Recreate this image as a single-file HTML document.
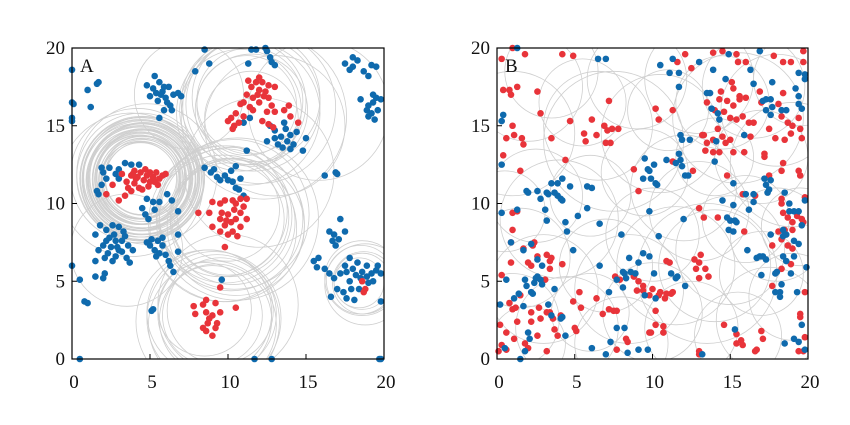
<!DOCTYPE html>
<html><head><meta charset="utf-8"><style>
html,body{margin:0;padding:0;background:#fff;width:850px;height:425px;overflow:hidden}
svg{display:block}
text{font-family:"Liberation Serif",serif;font-size:19px;fill:#111}
</style></head><body>
<svg id="chart" width="850" height="425" viewBox="0 0 850 425" xmlns="http://www.w3.org/2000/svg">
<defs>
<clipPath id="clipA"><rect x="72" y="48" width="312" height="311"/></clipPath>
<clipPath id="clipB"><rect x="497" y="48" width="311" height="311"/></clipPath>
</defs>
<g id="panelA"></g>
<g id="panelB"></g>
</svg>
<script>
// ---- Data (data units, 0..20) ----
const ticks = [0,5,10,15,20];
const tickLabels = ["0","5","10","15","20"];
const panelLabels = ["A","B"];

const circlesA = [
[4.4,11.6,2.3],[4.5,11.7,2.4],[4.4,11.5,2.5],[4.5,11.6,2.6],[4.3,11.7,2.7],[4.5,11.5,2.8],[4.4,11.6,2.9],[4.6,11.7,3.0],[4.4,11.5,3.1],[4.5,11.6,3.2],[4.3,11.6,3.3],[4.5,11.7,3.4],[4.4,11.5,3.5],[4.6,11.6,3.6],[4.4,11.7,3.7],[4.5,11.5,3.8],[4.4,11.6,3.9],[4.5,11.6,4.0],[4.4,11.7,4.1],[4.5,11.6,2.35],[4.4,11.6,2.55],[4.5,11.6,2.75],[4.4,11.6,2.95],[4.5,11.6,3.15],[4.4,11.6,3.35],[4.5,11.6,3.55],[4.4,11.6,3.75],[4.5,11.6,3.95],[4.3,11.5,2.45],[4.6,11.7,2.65],[4.3,11.5,2.85],[4.6,11.7,3.05],[4.3,11.5,3.25],[4.6,11.7,3.45],[4.3,11.5,3.65],[4.6,11.7,3.85],[4.2,11.8,4.3],[3.8,11.2,4.6],[4.8,11.9,4.5],
[11.2,16.3,3.2],[11.5,16.0,3.6],[11.0,16.5,4.0],[11.6,16.4,4.3],[11.3,15.8,4.6],[12.0,16.2,4.9],[11.4,16.6,3.4],[10.8,16.0,3.9],[12.3,15.6,5.3],[11.8,16.8,4.1],[13.0,15.0,4.5],[11.5,15.5,3.0],
[10.0,9.0,3.6],[10.3,8.8,4.0],[9.8,9.2,4.3],[10.2,9.0,4.6],[10.4,9.3,4.8],[9.9,8.7,5.0],[10.1,9.1,3.8],[10.5,8.5,4.4],[9.6,9.5,4.2],[10.0,9.6,3.3],[10.6,9.0,5.2],[9.7,8.4,4.7],
[9.0,2.8,3.2],[9.2,2.5,3.6],[8.8,3.0,4.0],[9.1,2.6,4.3],[9.3,2.9,3.8],[8.7,2.4,4.6],[9.5,3.1,3.4],[9.0,2.2,4.1],[10.0,3.5,4.5],[8.5,3.2,3.0],
[18.6,5.0,1.8],[18.7,4.9,2.0],[18.5,5.1,2.2],[18.6,5.2,2.4],[18.8,4.8,2.6],[18.4,4.9,1.6],
[15.8,16.0,4.5],[7.5,17.0,3.5],[3.5,7.0,3.6],[12.0,12.0,4.8]
];
const redA = [
[11.5,17.5],[11.8,17.8],[12.0,17.3],[12.2,17.8],[11.2,17.0],[11.6,16.8],[12.0,16.5],[12.3,16.9],[12.6,16.8],[12.8,16.3],[11.0,16.5],[11.4,16.2],[12.6,17.6],[11.6,16.0],[10.8,16.4],[12.0,18.1],[13.0,17.5],[12.5,15.9],[13.6,16.0],[13.9,16.3],[14.0,15.6],[14.5,15.2],[13.0,15.9],[12.9,14.9],[12.6,15.1],[10.5,15.8],[10.2,15.5],[10.0,15.3],[10.4,15.0],[10.7,15.2],[11.0,15.6],[10.3,14.8],[12.2,15.3],[11.9,17.0],[12.4,17.2],[11.3,17.9],
[3.5,11.4],[3.8,11.8],[4.0,11.3],[4.2,11.7],[4.4,12.0],[4.6,11.5],[4.8,11.8],[5.0,11.4],[5.2,11.7],[5.4,12.0],[5.6,11.6],[5.8,11.8],[6.0,11.9],[4.3,11.0],[3.8,10.8],[3.4,10.5],[3.0,10.2],[4.7,12.2],[5.0,12.0],[3.2,11.9],[2.2,10.6],[2.6,11.2],[3.6,11.0],[4.0,12.1],[4.5,10.9],[5.5,11.2],[4.1,11.6],[4.9,11.1],[5.3,11.4],[3.9,11.9],
[9.5,10.0],[9.8,10.2],[10.3,10.2],[10.5,10.0],[10.8,10.3],[11.2,10.3],[11.0,9.8],[10.8,9.4],[10.5,9.0],[10.2,8.8],[10.0,9.3],[9.6,9.4],[9.5,9.0],[9.8,8.6],[10.3,8.2],[9.5,8.2],[10.0,8.0],[10.8,8.5],[11.2,9.0],[8.1,9.4],[8.8,9.4],[9.0,10.1],[9.0,8.5],[9.8,7.2],[10.6,7.9],[10.4,9.6],[9.9,8.9],
[9.5,4.6],[7.8,3.4],[8.4,3.5],[8.6,3.8],[9.2,3.6],[10.5,3.3],[8.6,3.0],[7.9,2.9],[8.8,2.6],[9.0,2.8],[9.3,2.3],[9.5,3.0],[8.4,2.0],[8.7,2.3],[9.0,1.5],[9.2,2.0],[8.6,1.8],
[18.6,5.0],[18.8,4.5],[18.7,4.3]
];
const blueA = [
[5.3,18.2],[5.6,17.8],[5.2,17.4],[5.8,17.2],[6.0,16.8],[5.5,16.6],[6.3,16.3],[5.9,16.0],[4.8,17.6],[6.2,17.5],[6.5,17.0],[5.0,16.9],[5.7,17.0],[6.1,16.5],[5.6,15.5],[7.0,16.9],[6.8,17.1],[5.4,17.1],[5.9,17.5],[6.4,16.0],
[0,18.6],[0,16.5],[0.1,16.4],[0,15.5],[0,15.3],[1.0,17.3],[1.6,17.7],[1.7,17.8],[1.2,16.2],
[8.5,19.9],[8.8,19.0],[7.9,18.5],[11.5,19.9],[11.8,19.9],[12.5,19.8],[12.7,19.4],[12.8,19.1],[13.0,18.9],[11.3,19.0],[12.4,20],
[12.7,15.0],[13.0,14.7],[13.4,14.3],[13.8,14.0],[13.2,13.8],[14.0,14.4],[13.6,15.2],[14.2,13.8],[14.0,13.5],[14.8,13.4],[15.0,14.2],[13.7,14.8],[13.0,14.2],[13.5,13.6],[14.4,14.6],[12.5,14.0],
[11.0,15.2],[11.4,15.5],[11.2,13.4],
[17.5,19.0],[18.0,19.4],[18.3,19.2],[18.0,18.8],[17.8,18.6],[18.7,18.5],[19.2,18.9],[19.5,18.8],[19.0,18.2],[18.5,16.7],[19.0,16.3],[19.3,16.5],[19.5,16.8],[19.8,16.7],[19.3,17.0],[18.9,16.0],[19.2,15.8],[19.6,16.0],[19.0,15.6],[19.4,15.4],
[2.0,12.0],[1.9,12.3],[2.4,12.3],[2.2,11.6],[1.9,11.2],[1.6,10.8],[1.7,10.6],[3.0,12.2],[3.4,12.6],[3.8,12.5],[4.3,12.5],[2.8,11.9],[4.8,10.3],[5.2,10.1],[5.6,10.1],[6.1,10.6],[6.4,10.2],[4.5,9.7],[4.7,9.3],[4.9,9.0],[5.3,9.6],[6.8,9.5],[3.0,11.6],
[1.8,8.6],[2.2,8.3],[2.6,8.6],[3.0,8.5],[3.3,8.2],[2.4,7.8],[2.8,7.6],[3.2,7.6],[3.6,7.3],[2.0,7.3],[1.7,7.0],[2.3,6.8],[2.8,6.6],[3.2,6.9],[2.5,7.2],[3.9,7.0],[3.5,6.5],[2.1,6.5],[1.5,6.3],[3.7,6.2],[1.5,8.0],[2.9,7.2],[3.4,7.9],[2.6,6.3],[2.7,8.0],[3.0,7.0],[2.2,7.6],
[4.8,7.5],[5.1,7.7],[5.5,7.6],[5.8,7.8],[5.0,7.3],[5.3,7.0],[5.6,6.8],[5.4,6.6],[6.0,6.7],[6.3,6.0],[6.5,5.6],[6.2,6.3],[6.8,8.0],[6.8,6.9],[5.8,7.3],
[0,6.0],[0.5,5.1],[1.5,5.3],[2.0,5.2],[2.1,5.5],[0.8,3.7],[1.0,3.6],[5.1,3.1],[5.2,3.2],[0.5,0],[11.7,0],[12.8,0],[19.8,0],[19.7,0],
[8.5,12.3],[8.9,12.0],[9.3,11.7],[9.5,11.5],[10.0,11.5],[10.3,11.4],[10.5,11.0],[10.2,12.1],[10.5,12.4],[10.8,11.6],[11.0,10.5],[10.7,10.9],[9.8,11.8],[9.1,12.2],
[9.6,5.1],
[16.5,8.2],[16.8,8.0],[17.1,7.7],[16.9,7.3],[17.2,9.0],[17.5,8.2],[16.7,7.6],[15.5,6.3],[15.8,6.5],[15.7,5.9],[16.2,5.8],[16.5,5.5],[16.8,5.2],[17.2,5.5],[17.5,6.0],[17.8,6.5],[18.0,5.8],[18.3,6.2],[18.6,5.6],[18.9,6.0],[19.2,5.5],[19.5,5.7],[19.3,5.0],[19.0,4.9],[18.4,4.5],[17.9,4.5],[17.4,4.3],[17.0,4.5],[16.6,4.0],[17.6,3.9],[18.1,3.8],[17.8,5.0],[18.5,5.2],[19.6,6.0],[19.8,5.5],[19.8,3.7],[16.2,11.8],[16.9,12.0],[17.0,11.9],[18.2,5.4],[17.6,5.6],[18.9,5.3]
];

const circlesB = [
[2.0,17.5,3.5],[1.0,14.5,4.0],[3.5,18.5,3.0],[6.5,15.0,3.5],[7.5,14.0,4.5],[5.5,16.5,2.8],[9.0,18.0,3.2],[10.5,14.5,3.8],[9.5,12.0,2.8],[13.0,18.0,3.5],[14.5,16.5,3.0],[15.5,15.5,4.2],[16.5,17.5,3.3],[18.0,16.0,3.6],[17.0,13.0,3.0],[14.0,13.0,2.5],[19.0,12.5,4.0],[19.5,18.0,3.0],[12.0,11.0,3.4],
[2.5,10.5,3.0],[4.0,9.0,3.8],[6.0,10.5,2.6],[1.5,6.5,3.2],[3.0,4.5,3.5],[1.0,2.5,3.0],[4.5,2.0,3.3],[7.0,6.0,3.0],[8.5,4.5,3.5],[10.0,3.0,3.2],[11.5,6.0,3.8],[13.5,5.5,4.5],[14.0,6.0,3.6],[12.5,2.0,3.0],[15.5,1.5,2.8],[17.5,2.5,3.4],[19.0,4.0,2.8],[18.0,8.0,3.0],[16.0,9.0,2.8],[15.0,7.0,3.5],[8.0,1.0,3.0],[6.0,3.0,2.5],[2.0,1.0,2.4],[13.0,9.5,3.2],[11.0,16.0,2.6],[0.5,9.5,2.6],[19.5,8.5,2.5],[17.0,5.5,2.7],[10.0,8.0,3.0]
];
const redB = [
[0.3,19.3],[1.0,20],[1.8,19.6],[0.4,17.3],[0.8,17.3],[0.9,17.0],[1.3,17.5],[2.6,17.2],[2.8,15.8],[1.0,15.0],[0.6,14.2],[1.1,14.4],[1.6,14.2],[1.7,13.8],[3.5,14.2],[0.4,13.1],[1.5,12.1],[4.4,12.8],[4.2,19.6],[4.9,19.5],
[4.7,15.3],[6.1,15.4],[5.6,14.5],[5.7,14.0],[6.4,14.4],[6.9,15.0],[7.1,14.7],[7.4,14.8],[7.0,13.9],[7.3,13.9],[7.8,14.8],[7.2,16.6],[10.2,16.1],[10.4,15.4],[11.3,16.0],[8.8,12.2],[9.1,10.8],
[11.6,19.1],[12.1,19.6],[12.5,18.7],[13.9,19.7],[14.5,19.8],[15.4,19.6],[16.0,19.1],[15.5,19.1],[15.1,17.8],[15.2,17.4],[13.5,16.5],[14.4,17.2],[14.3,16.7],[14.8,16.6],[15.2,16.3],[15.6,16.9],[15.6,16.7],[16.0,16.8],[14.0,16.0],[14.6,15.9],[15.0,15.5],[15.4,15.4],[15.8,15.6],[16.2,15.2],[16.5,15.2],[13.2,14.4],[13.3,14.4],[13.5,13.9],[13.9,14.1],[14.2,14.8],[14.5,14.3],[14.7,13.9],[15.0,14.1],[13.9,13.3],[14.3,13.3],[13.4,13.4],[15.2,13.3],[15.9,13.3],[16.3,14.3],[16.9,17.2],[17.0,16.5],[17.8,19.5],[18.4,19.1],[18.9,19.1],[19.7,19.8],[19.7,19.1],[18.4,17.1],[18.1,16.4],[18.3,15.6],[18.7,15.2],[19.0,15.0],[19.4,15.5],[19.5,14.8],[17.5,14.8],[17.9,14.2],[18.5,14.1],[18.9,14.5],[19.6,14.2],[17.2,13.0],[17.2,13.2],[18.4,12.6],[18.3,12.1],[19.4,12.1],[19.5,11.8],[17.5,11.8],[16.6,10.5],[14.8,11.8],[12.6,12.1],[11.3,12.7],[13.3,9.1],[14.2,9.1],[13.0,9.7],[15.8,10.6],[15.9,8.2],[18.3,10.3],[18.3,10.0],[18.4,9.4],[18.7,9.1],[19.0,8.8],[19.3,9.2],[19.6,9.0],[19.8,10.4],[19.7,8.8],[18.1,8.2],[18.5,8.3],[19.0,8.3],[17.7,7.3],[18.3,7.7],[18.7,7.3],[19.0,7.1],[18.3,5.8],[18.9,6.1],[17.7,4.7],[19.8,4.3],[19.5,2.9],[19.5,2.7],[19.8,1.4],[19.4,0.5],[19.7,0.5],
[12.7,6.4],[13.0,6.2],[13.1,6.7],[12.8,5.8],[13.0,5.2],[13.4,5.8],[13.6,5.3],[10.9,6.3],[11.1,6.2],[10.5,4.3],[10.9,4.2],[11.2,4.2],[11.3,4.3],[10.8,3.9],[10.4,4.1],[9.8,4.1],[10.0,4.5],[9.4,4.7],[9.1,5.0],[8.8,5.3],[9.0,4.4],[9.4,4.4],[7.6,5.3],[7.9,5.1],[7.2,3.2],[7.5,3.1],[7.7,3.1],[6.4,3.9],[6.8,2.9],[5.3,4.3],[5.4,3.3],[4.9,3.7],[5.0,2.0],[5.1,1.8],[10.2,3.1],[10.2,2.2],[10.7,2.1],[10.7,1.7],[9.8,1.7],[9.9,1.7],[8.3,1.3],[8.4,1.1],[7.7,0.6],[13.0,0.5],[13.0,0.3],[14.6,2.2],[15.4,1.6],[15.7,1.2],[15.4,1.0],[15.8,0.9],[16.6,0.5],[17.0,1.8],[17.1,1.3],[16.7,0.6],
[0.3,5.4],[0.9,7.5],[1.0,8.3],[1.0,9.4],[1.3,9.5],[1.7,7.1],[2.0,6.2],[2.2,6.0],[2.4,7.5],[2.3,7.3],[2.6,6.6],[3.2,6.7],[3.4,6.3],[3.4,5.8],[3.5,6.5],[4.2,6.1],[3.1,5.1],[0.9,6.2],[0.8,3.6],[1.0,3.2],[1.2,3.3],[1.5,4.1],[1.1,1.3],[1.3,2.4],[0.6,1.7],[0.2,2.2],[0.1,0.5],[0.3,0.9],[0.6,0.6],[1.8,1.0],[2.2,2.4],[2.2,3.0],[2.7,3.3],[2.8,2.6],[3.2,3.0],[3.4,3.0],[3.6,2.6],[3.7,1.9],[4.1,2.8],[3.2,0.5],[2.6,1.5],[3.9,1.5],[2.0,0.7]
];
const blueB = [
[0.3,12.5],[0.4,15.7],[0.3,15.3],[0.3,9.4],[1.3,20],[6.5,19.3],[7.0,19.3],[10.5,18.9],[11.1,18.4],[11.3,19.3],[11.7,18.4],[11.7,17.5],[13.0,19.1],[13.9,18.6],[14.9,19.6],[14.7,18.0],[13.5,17.1],[13.7,17.1],[13.8,16.1],[14.2,15.8],[14.3,15.4],[16.5,17.7],[16.3,18.6],[16.9,19.8],[17.1,16.6],[17.3,16.7],[17.6,16.7],[17.7,17.8],[17.3,16.0],[17.6,15.7],[17.7,16.2],[18.3,16.0],[18.6,16.0],[19.2,17.4],[19.4,16.9],[19.6,16.1],[19.4,16.4],[19.4,18.4],[19.8,18.3],[19.8,18.0],[15.9,14.4],[14.1,14.0],[14.0,12.7],[11.8,14.4],[11.9,14.1],[11.7,13.2],[11.8,12.8],[11.5,12.6],[11.9,12.4],[12.1,11.8],[12.3,11.8],[12.4,14.1],[10.9,12.8],[9.5,12.9],[9.7,12.2],[10.1,12.5],[9.8,12.1],[9.4,11.6],[9.9,11.6],[10.2,11.3],[10.3,11.2],[9.8,9.5],[10.4,7.9],[12.0,9.0],[14.5,10.2],[14.8,9.1],[15.0,8.9],[15.3,8.9],[15.4,8.8],[14.9,8.3],[15.2,8.2],[15.2,9.9],[15.2,11.3],[16.0,10.6],[16.5,10.6],[16.5,10.1],[16.2,9.6],[17.2,11.6],[17.3,11.2],[17.5,10.9],[17.4,10.7],[17.6,11.5],[18.5,10.7],[18.8,10.0],[18.8,9.5],[19.1,9.5],[19.4,9.5],[19.6,8.6],[19.8,10.2],[18.4,8.3],[18.4,7.9],[18.6,8.0],[19.1,7.6],[19.4,7.4],[17.6,8.0],[18.4,6.6],[18.6,6.3],[19.1,6.6],[17.9,5.5],[18.0,5.6],[18.9,5.5],[19.9,5.9],[18.3,4.8],[17.9,4.3],[18.2,4.3],[18.2,4.0],[19.3,4.3],[16.7,6.5],[16.9,6.6],[17.1,6.6],[17.3,6.4],[17.0,5.4],[16.1,7.0],[19.6,2.2],[19.1,1.3],[19.4,1.1],[19.8,0.6],[18.5,1.0],[15.3,1.9],[13.2,0.3],[11.6,5.3],[11.5,5.2],[11.2,5.5],[12.1,4.7],[10.1,5.5],[9.8,6.6],[9.4,6.8],[9.1,6.2],[8.5,6.5],[8.9,5.5],[8.6,5.6],[8.2,5.5],[8.1,5.6],[8.3,5.2],[7.7,5.1],[8.1,4.6],[7.2,4.3],[9.5,4.1],[10.2,3.9],[8.0,8.0],[6.6,6.0],[7.7,2.0],[8.2,2.0],[7.3,1.1],[7.0,0.3],[8.4,0.4],[9.1,0.6],[9.7,0.6],[6.1,0.7],[6.6,8.7],[4.9,7.0],[4.5,8.2],[4.4,8.8],[5.2,9.2],[5.8,9.7],[5.8,11.1],[6.1,11.0],[4.7,11.1],[3.2,10.7],[3.3,10.6],[3.7,10.7],[3.9,10.5],[4.1,10.3],[4.2,10.2],[3.5,11.3],[3.9,11.3],[4.2,11.6],[2.8,10.3],[2.6,10.8],[1.9,10.8],[2.0,10.7],[3.1,9.6],[3.2,8.9],[1.3,9.6],[0.9,7.5],[1.7,7.0],[2.2,7.4],[2.6,6.4],[2.9,6.0],[2.6,5.3],[2.5,5.2],[2.8,5.1],[2.9,4.8],[2.4,4.9],[1.8,5.1],[1.9,4.7],[2.2,4.3],[2.3,4.2],[0.6,5.1],[1.1,3.9],[1.4,4.2],[1.7,3.4],[0.2,3.5],[3.3,3.5],[3.7,4.5],[4.1,2.6],[4.2,2.7],[4.4,1.5],[2.0,1.7],[2.1,1.3],[3.5,2.8],[0.5,0.7],[1.8,0.5],[1.5,0.0]
];

// ---- Rendering ----
const NS = "http://www.w3.org/2000/svg";
const panels = [
  {g:"panelA", x0:72, x1:384, y0:359, y1:48, clip:"clipA", circles:circlesA, red:redA, blue:blueA, label:panelLabels[0]},
  {g:"panelB", x0:497, x1:808, y0:359, y1:48, clip:"clipB", circles:circlesB, red:redB, blue:blueB, label:panelLabels[1]}
];
function mk(tag, attrs, parent){const e=document.createElementNS(NS,tag);for(const k in attrs)e.setAttribute(k,attrs[k]);parent.appendChild(e);return e;}
panels.forEach((p,pi)=>{
  const g=document.getElementById(p.g);
  const sx=v=>p.x0+(p.x1-p.x0)*v/20;
  const sy=v=>p.y0+(p.y1-p.y0)*v/20;
  const k=(p.x1-p.x0)/20;
  const plot=mk("g",{"clip-path":"url(#"+p.clip+")"},g);
  
  
  const cg=mk("g",{fill:"none",stroke:"#cfcfcf","stroke-width":"0.8"},plot);
  
  
  p.circles.forEach(c=>{
    const e=mk("circle",{cx:sx(c[0]),cy:sy(c[1]),r:c[2]*k},cg);
    
    
  });
  const series=[["blue-points",p.blue,"#0f6aad"],["red-points",p.red,"#e8343a"]];
  if(pi===1) series.reverse();
  series.forEach(s=>{
    const sg=mk("g",{fill:s[2]},g);
    
    
    s[1].forEach(pt=>{
      const e=mk("circle",{cx:sx(pt[0]),cy:sy(pt[1]),r:3.3},sg);
      
      
    });
  });
  const frame=mk("rect",{x:p.x0,y:p.y1,width:p.x1-p.x0,height:p.y0-p.y1,fill:"none",stroke:"#000","stroke-width":"1.2"},g);
  
  
  ticks.forEach((t,i)=>{
    const tx=mk("line",{x1:sx(t),x2:sx(t),y1:p.y0,y2:p.y0-5,stroke:"#000","stroke-width":"1"},g);
    
    
    const ty=mk("line",{x1:p.x0,x2:p.x0+5,y1:sy(t),y2:sy(t),stroke:"#000","stroke-width":"1"},g);
    
    
    const lx=mk("text",{x:sx(t)+2,y:388,"text-anchor":"middle"},g);
    lx.textContent=tickLabels[i];
    
    
    const ly=mk("text",{x:p.x0-7,y:sy(t)+6,"text-anchor":"end"},g);
    ly.textContent=tickLabels[i];
    
    
  });
  const lab=mk("text",{x:p.x0+8,y:72},g);
  lab.textContent=p.label;
  
  
});
</script>
</body></html>
